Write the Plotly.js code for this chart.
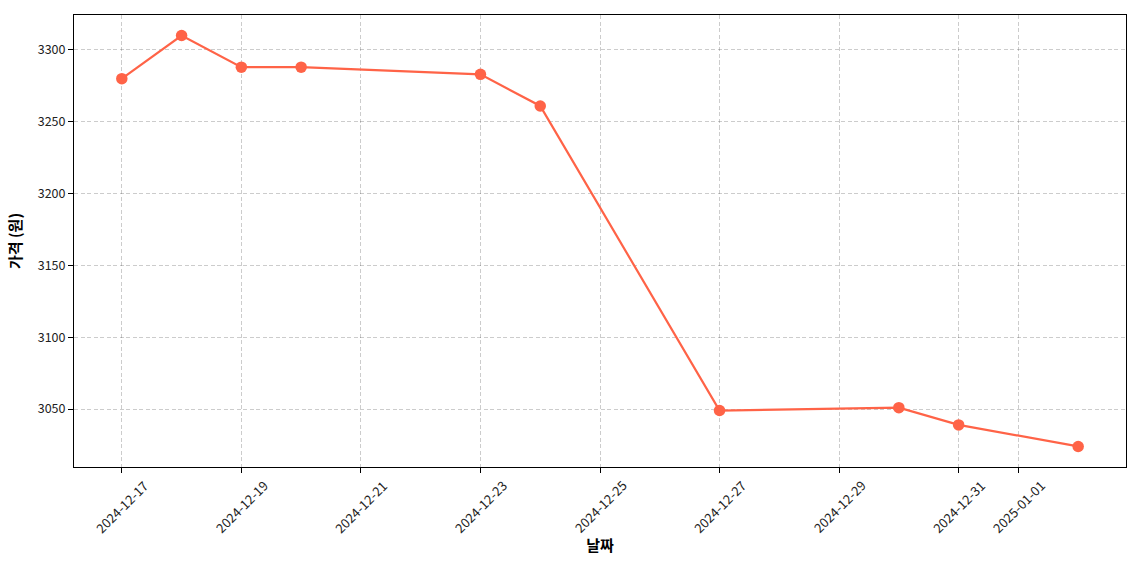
<!DOCTYPE html>
<html><head><meta charset="utf-8">
<script src="https://cdn.plot.ly/plotly-3.0.1.min.js"></script>
<style>html,body{margin:0;padding:0;background:#fff}#chart{width:1140px;height:570px}</style>
</head><body><div id="chart"></div>
<script>
const dates = ["2024-12-17","2024-12-18","2024-12-19","2024-12-20","2024-12-23","2024-12-24","2024-12-27","2024-12-30","2024-12-31","2025-01-02"];
const prices = [3280,3310,3288,3288,3283,3261,3049,3051,3039,3024];
const tickDates = ["2024-12-17","2024-12-19","2024-12-21","2024-12-23","2024-12-25","2024-12-27","2024-12-29","2024-12-31","2025-01-01"];
const yTicks = [3050,3100,3150,3200,3250,3300];
const xTitle = "날짜";
const yTitle = "가격 (원)";

const font = "'Noto Sans CJK KR', 'Noto Sans', sans-serif";
const trace = {
  x: dates, y: prices, type: "scatter", mode: "lines+markers",
  line: {color: "#FF6347", width: 2.2},
  marker: {color: "#FF6347", size: 11.5},
  hoverinfo: "skip"
};
const tickAnnotations = tickDates.map(d => ({
  x: d, xref: "x", y: 0, yref: "paper",
  text: d, showarrow: false, textangle: -45,
  xanchor: "center", yanchor: "top", yshift: -6,
  font: {family: font, size: 13, color: "#222"}
}));
const layout = {
  width: 1140, height: 570,
  margin: {l: 74, r: 14, t: 15, b: 103},
  paper_bgcolor: "#fff", plot_bgcolor: "#fff",
  showlegend: false,
  font: {family: font, size: 12, color: "#000"},
  annotations: tickAnnotations,
  xaxis: {
    type: "date",
    range: ["2024-12-16 04:48", "2025-01-02 19:12"],
    tickvals: tickDates, showticklabels: false,
    ticks: "outside", ticklen: 5, tickcolor: "#000",
    showgrid: true, gridcolor: "rgba(0,0,0,0.2)", griddash: "4px,2.5px", gridwidth: 1,
    showline: true, linecolor: "#000", linewidth: 1, mirror: true,
    zeroline: false,
    title: {text: "<b>" + xTitle + "</b>", font: {size: 15, family: font}, standoff: 68}
  },
  yaxis: {
    range: [3009.7, 3324.3],
    tickvals: yTicks,
    tickfont: {size: 12.5, family: font, color: "#222"},
    ticks: "outside", ticklen: 5, tickcolor: "#000",
    showgrid: true, gridcolor: "rgba(0,0,0,0.2)", griddash: "4px,2.5px", gridwidth: 1,
    showline: true, linecolor: "#000", linewidth: 1, mirror: true,
    zeroline: false,
    title: {text: "<b>" + yTitle + "</b>", font: {size: 15, family: font}, standoff: 12}
  }
};
Plotly.newPlot("chart", [trace], layout, {displayModeBar: false, staticPlot: true});
</script></body></html>
